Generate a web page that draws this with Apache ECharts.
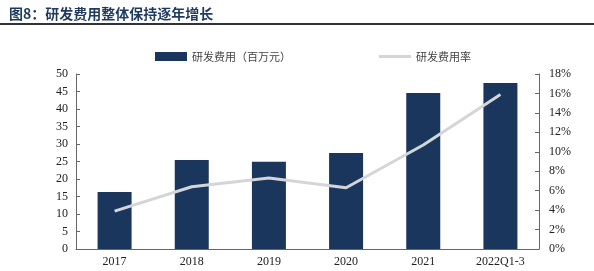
<!DOCTYPE html>
<html><head><meta charset="utf-8">
<script src="https://cdn.jsdelivr.net/npm/echarts@6/dist/echarts.min.js"></script>
<style>html,body{margin:0;padding:0;background:#fff}#c{width:594px;height:271px}</style>
</head><body><div id="c"></div>
<script>
const categories = ['2017','2018','2019','2020','2021','2022Q1-3'];
const rdExpense = [16.3, 25.4, 24.9, 27.4, 44.6, 47.4];
const rdRate = [3.9, 6.4, 7.3, 6.3, 10.7, 15.9];
const leftTicks = {min:0, max:50, interval:5};
const rightTicks = {min:0, max:18, interval:2};

const chart = echarts.init(document.getElementById('c'));
const serif = 'Liberation Serif, Times New Roman, serif';
chart.setOption({
  animation:false,
  title:{text:'图8：研发费用整体保持逐年增长', left:4, top:2,
    textStyle:{fontFamily:'Noto Sans CJK SC', fontWeight:'bold', fontSize:14, color:'#1f3a5f'}},
  graphic:[{type:'rect', shape:{x:0,y:23,width:594,height:2}, style:{fill:'#333'}}],
  legend:{top:46, left:150, itemGap:88, itemWidth:32, itemHeight:9, symbolKeepAspect:true,
    textStyle:{fontFamily:'Noto Sans CJK SC', fontSize:11, color:'#444'},
    data:[{name:'研发费用（百万元）', icon:'rect'},
          {name:'研发费用率', icon:'path://M0,0H32V3H0Z', itemStyle:{color:'#d3d5d9'}}]},
  grid:{left:76, right:55, top:74, bottom:22},
  xAxis:{type:'category', data:categories, boundaryGap:true,
    axisLine:{lineStyle:{color:'#666'}},
    axisTick:{inside:true, length:4, lineStyle:{color:'#666'}},
    axisLabel:{fontFamily:serif, fontSize:12, color:'#222', margin:7}},
  yAxis:[{type:'value', min:leftTicks.min, max:leftTicks.max, interval:leftTicks.interval,
    splitLine:{show:false}, axisLine:{show:true, lineStyle:{color:'#666'}},
    axisTick:{show:true, inside:true, length:4, lineStyle:{color:'#666'}},
    axisLabel:{fontFamily:serif, fontSize:12, color:'#222', margin:8}},
   {type:'value', min:rightTicks.min, max:rightTicks.max, interval:rightTicks.interval,
    splitLine:{show:false}, axisLine:{show:true, lineStyle:{color:'#666'}},
    axisTick:{show:true, inside:true, length:4, lineStyle:{color:'#666'}},
    axisLabel:{fontFamily:serif, fontSize:12, color:'#222', margin:10, formatter:'{value}%'}}],
  series:[
    {name:'研发费用（百万元）', type:'bar', data:rdExpense, barWidth:34, itemStyle:{color:'#1b365d'}},
    {name:'研发费用率', type:'line', yAxisIndex:1, data:rdRate, symbol:'none',
      lineStyle:{color:'#d3d5d9', width:3}, itemStyle:{color:'#d3d5d9'}}
  ]
});
</script></body></html>
